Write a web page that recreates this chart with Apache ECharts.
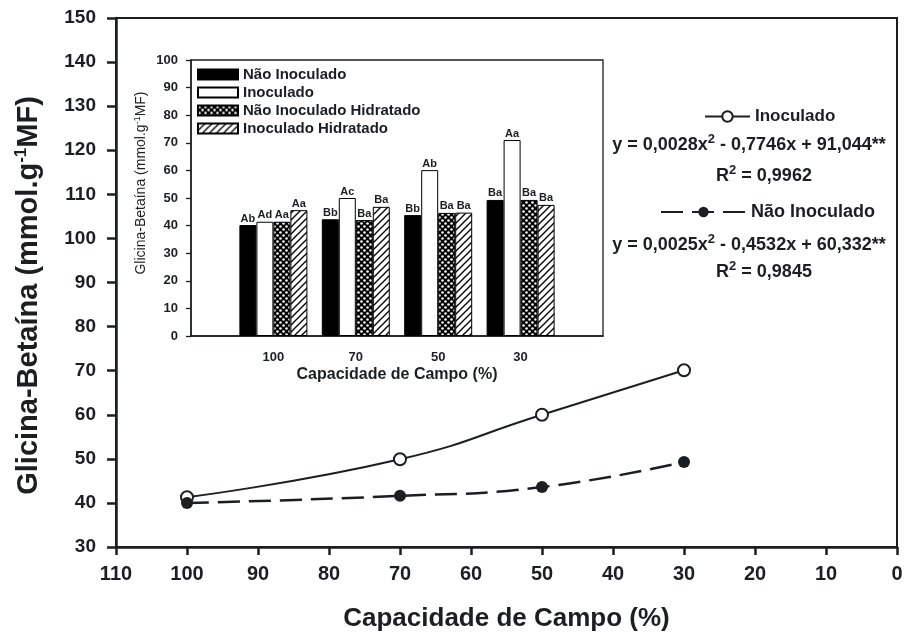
<!DOCTYPE html>
<html><head><meta charset="utf-8">
<script src="https://cdn.jsdelivr.net/npm/echarts@6/dist/echarts.min.js"></script>
<style>html,body{margin:0;padding:0;background:#fff}#c{width:907px;height:637px}</style>
</head><body><div id="c"></div>
<script>
// ---- main chart data ----
const mainX = [100, 70, 50, 30];
const inoculado = [41.3, 49.9, 60.0, 70.1];
const naoInoculado = [40.0, 41.6, 43.6, 49.3];
// ---- inset chart data ----
const insetCats = ['100', '70', '50', '30'];
const barNao = [40.2, 42.3, 43.8, 49.3];
const barInoc = [41.4, 50.0, 60.1, 71.0];
const barNaoHid = [41.4, 42.0, 44.6, 49.3];
const barInocHid = [45.6, 46.8, 44.7, 47.5];
const lblNao = ['Ab', 'Bb', 'Bb', 'Ba'];
const lblInoc = ['Ad', 'Ac', 'Ab', 'Aa'];
const lblNaoHid = ['Aa', 'Ba', 'Ba', 'Ba'];
const lblInocHid = ['Aa', 'Ba', 'Ba', 'Ba'];

const FONT = 'Liberation Sans, Arial, sans-serif';
const INK = '#1b1f22';

function checker() {
  const c = document.createElement('canvas'); c.width = 6; c.height = 6;
  const g = c.getContext('2d');
  g.fillStyle = '#000'; g.fillRect(0, 0, 6, 6);
  g.fillStyle = '#fff';
  g.beginPath(); g.arc(1.5, 1.5, 1.3, 0, Math.PI * 2); g.fill();
  g.beginPath(); g.arc(4.5, 4.5, 1.3, 0, Math.PI * 2); g.fill();
  return c;
}
function hatch() {
  const c = document.createElement('canvas'); c.width = 7; c.height = 7;
  const g = c.getContext('2d');
  g.fillStyle = '#fff'; g.fillRect(0, 0, 7, 7);
  g.strokeStyle = '#000'; g.lineWidth = 1.3;
  g.beginPath(); g.moveTo(0, 7); g.lineTo(7, 0); g.stroke();
  g.beginPath(); g.moveTo(-1, 1); g.lineTo(1, -1); g.stroke();
  g.beginPath(); g.moveTo(6, 8); g.lineTo(8, 6); g.stroke();
  return c;
}
const pad = a => [null].concat(a, [null]);

function barSeries(name, vals, lbls, color) {
  return {
    name: name, type: 'bar', xAxisIndex: 1, yAxisIndex: 1, z: 5,
    data: pad(vals), barWidth: 17, barGap: '0%',
    itemStyle: { color: color, borderColor: '#000', borderWidth: 1 },
    label: {
      show: true, position: 'top', distance: 1,
      fontFamily: FONT, fontSize: 11, fontWeight: 'bold', color: INK,
      formatter: p => lbls[p.dataIndex - 1] || ''
    }
  };
}

const chart = echarts.init(document.getElementById('c'));
const eqFont = 'bold 18px ' + FONT;
const supRich = { sup: { fontSize: 13, fontWeight: 'bold', fontFamily: FONT, fill: INK, padding: [0, 0, 11, 0] } };

chart.setOption({
  animation: false,
  backgroundColor: '#fff',
  grid: [
    { left: 116, right: 10, top: 18, bottom: 88, show: true, borderColor: INK, borderWidth: 2 },
    { left: 191, width: 412, top: 60, height: 276, show: true, borderColor: INK, borderWidth: 1.3, backgroundColor: '#fff' }
  ],
  xAxis: [
    {
      type: 'value', gridIndex: 0, position: 'bottom', min: 0, max: 110, interval: 10, inverse: true,
      axisLine: { onZero: false, lineStyle: { color: INK, width: 2.5 } },
      axisTick: { show: true, length: 8, lineStyle: { color: INK, width: 2.5 } },
      splitLine: { show: false },
      axisLabel: { fontFamily: FONT, fontSize: 20, fontWeight: 'bold', color: INK, margin: 17 },
      name: 'Capacidade de Campo (%)', nameLocation: 'middle', nameGap: 59,
      nameTextStyle: { fontFamily: FONT, fontSize: 26, fontWeight: 'bold', color: INK }
    },
    {
      type: 'category', gridIndex: 1, position: 'bottom', boundaryGap: false,
      data: [''].concat(insetCats, ['']),
      axisLine: { onZero: false, lineStyle: { color: INK, width: 1.5 } },
      axisTick: { show: false },
      axisLabel: { fontFamily: FONT, fontSize: 13, fontWeight: 'bold', color: INK, margin: 15 },
      name: 'Capacidade de Campo (%)', nameLocation: 'middle', nameGap: 31,
      nameTextStyle: { fontFamily: FONT, fontSize: 16, fontWeight: 'bold', color: INK }
    }
  ],
  yAxis: [
    {
      type: 'value', gridIndex: 0, position: 'left', min: 30, max: 150, interval: 10,
      axisLine: { show: true, onZero: false, lineStyle: { color: INK, width: 2.5 } },
      axisTick: { show: true, length: 9, lineStyle: { color: INK, width: 2.5 } },
      splitLine: { show: false },
      axisLabel: { fontFamily: FONT, fontSize: 19, fontWeight: 'bold', color: INK, margin: 20 },
      name: 'Glicina-Betaína (mmol.g{sup|-1}MF)', nameLocation: 'middle', nameGap: 72,
      nameTextStyle: {
        fontFamily: FONT, fontSize: 29, fontWeight: 'bold', color: INK, padding: [0, 26, 0, 0],
        rich: { sup: { fontFamily: FONT, fontSize: 17, fontWeight: 'bold', color: INK, padding: [0, 0, 14, 0] } }
      }
    },
    {
      type: 'value', gridIndex: 1, position: 'left', min: 0, max: 100, interval: 10,
      axisLine: { show: true, onZero: false, lineStyle: { color: INK, width: 1.5 } },
      axisTick: { show: true, length: 5, lineStyle: { color: INK, width: 1.3 } },
      splitLine: { show: false },
      axisLabel: { fontFamily: FONT, fontSize: 13, fontWeight: 'bold', color: INK, margin: 13 },
      name: 'Glicina-Betaína (mmol.g{sup|-1}MF)', nameLocation: 'middle', nameGap: 42,
      nameTextStyle: {
        fontFamily: FONT, fontSize: 14, color: INK, padding: [0, 0, 0, 30],
        rich: { sup: { fontFamily: FONT, fontSize: 9, color: INK, padding: [0, 0, 7, 0] } }
      }
    }
  ],
  legend: [
    {
      data: ['Inoculado'], left: 704, top: 108, padding: 0, itemWidth: 45, itemHeight: 13,
      textStyle: { fontFamily: FONT, fontSize: 17, fontWeight: 'bold', color: INK }
    },
    {
      data: ['Não Inoculado'], left: 660, top: 203, padding: 0, itemWidth: 85, itemHeight: 13,
      textStyle: { fontFamily: FONT, fontSize: 18, fontWeight: 'bold', color: INK }
    },
    {
      data: ['Não Inoculado ', 'Inoculado ', 'Não Inoculado Hidratado', 'Inoculado Hidratado'],
      orient: 'vertical', left: 192, top: 62, itemWidth: 40, itemHeight: 10, itemGap: 3,
      icon: 'rect', z: 10,
      textStyle: { fontFamily: FONT, fontSize: 15, fontWeight: 'bold', color: INK }
    }
  ],
  graphic: [
    { type: 'text', z: 10, style: { x: 749, y: 145, align: 'center', verticalAlign: 'middle', text: 'y = 0,0028x{sup|2} - 0,7746x + 91,044**', font: eqFont, fill: INK, rich: supRich } },
    { type: 'text', z: 10, style: { x: 764, y: 176, align: 'center', verticalAlign: 'middle', text: 'R{sup|2} = 0,9962', font: eqFont, fill: INK, rich: supRich } },
    { type: 'text', z: 10, style: { x: 749, y: 245, align: 'center', verticalAlign: 'middle', text: 'y = 0,0025x{sup|2} - 0,4532x + 60,332**', font: eqFont, fill: INK, rich: supRich } },
    { type: 'text', z: 10, style: { x: 764, y: 272, align: 'center', verticalAlign: 'middle', text: 'R{sup|2} = 0,9845', font: eqFont, fill: INK, rich: supRich } }
  ],
  series: [
    {
      name: 'Inoculado', type: 'line', xAxisIndex: 0, yAxisIndex: 0, smooth: true,
      data: mainX.map((x, i) => [x, inoculado[i]]),
      symbol: 'emptyCircle', symbolSize: 12,
      lineStyle: { color: INK, width: 2 },
      itemStyle: { color: INK, borderColor: INK, borderWidth: 2 }
    },
    {
      name: 'Não Inoculado', type: 'line', xAxisIndex: 0, yAxisIndex: 0, smooth: true,
      data: mainX.map((x, i) => [x, naoInoculado[i]]),
      symbol: 'circle', symbolSize: 12,
      lineStyle: { color: INK, width: 2.5, type: [22, 9] },
      itemStyle: { color: INK }
    },
    barSeries('Não Inoculado ', barNao, lblNao, '#000'),
    barSeries('Inoculado ', barInoc, lblInoc, '#fff'),
    barSeries('Não Inoculado Hidratado', barNaoHid, lblNaoHid, { image: checker(), repeat: 'repeat' }),
    barSeries('Inoculado Hidratado', barInocHid, lblInocHid, { image: hatch(), repeat: 'repeat' })
  ]
});
</script></body></html>
